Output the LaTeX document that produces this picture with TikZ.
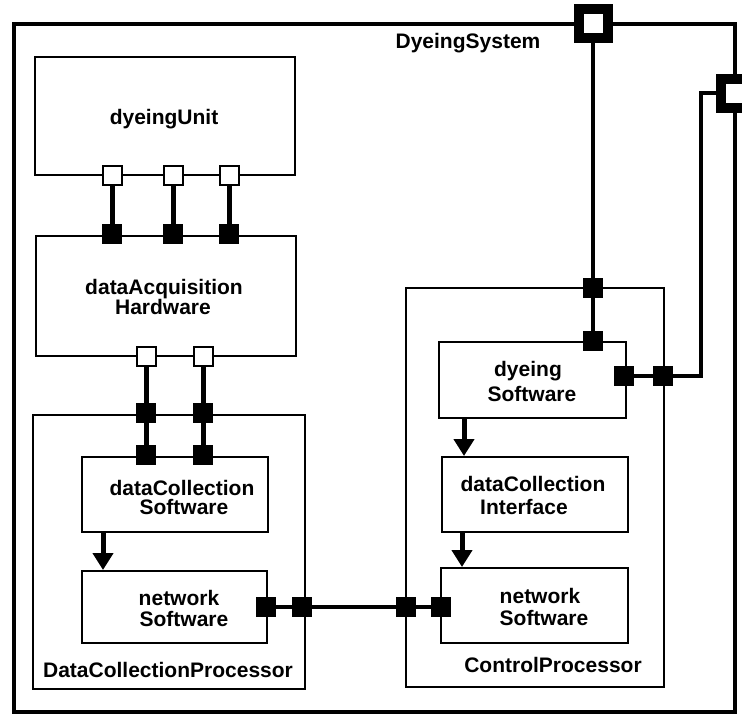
\documentclass[tikz,border=0pt]{standalone}
\usepackage{fontspec}
\setmainfont{Liberation Sans}
\usetikzlibrary{arrows.meta}
\begin{document}
\begin{tikzpicture}[x=1pt,y=-1pt,
  box/.style={draw, rectangle, line width=2pt, inner sep=0pt},
  frame/.style={draw, rectangle, line width=3.5pt, inner sep=0pt},
  lbl/.style={font=\bfseries\fontsize{21}{22}\selectfont, inner sep=0pt, anchor=base},
  fport/.style={rectangle, fill=black, draw=black, line width=1pt, minimum size=19pt, inner sep=0pt},
  hport/.style={rectangle, fill=white, draw=black, line width=2pt, minimum size=19pt, inner sep=0pt},
  extport/.style={rectangle, fill=white, draw=black, line width=10pt, minimum size=29pt, inner sep=0pt},
  wire/.style={line width=5pt},
  slimwire/.style={line width=4pt},
  flow/.style={line width=5pt, -{Triangle[length=17pt,width=20pt]}}]

\useasboundingbox (0,0) rectangle (742,715);
\clip (0,0) rectangle (742,715);

% enclosing system
\node[frame, minimum width=721pt, minimum height=688pt] (sys) at (374.5,368) {};

% components
\node[box, minimum width=260pt, minimum height=118pt] (du)  at (165,116)   {};
\node[box, minimum width=260pt, minimum height=120pt] (dah) at (166,296)   {};
\node[box, minimum width=272pt, minimum height=274pt] (dcp) at (169,552)   {};
\node[box, minimum width=186pt, minimum height=75pt]  (dcs) at (175,494.5) {};
\node[box, minimum width=185pt, minimum height=72pt]  (ns1) at (174.5,607) {};
\node[box, minimum width=258pt, minimum height=399pt] (cp)  at (535,487.5) {};
\node[box, minimum width=187pt, minimum height=76pt]  (ds)  at (532.5,380) {};
\node[box, minimum width=186pt, minimum height=75pt]  (dci) at (535,494.5) {};
\node[box, minimum width=187pt, minimum height=75pt]  (ns2) at (534.5,605.5) {};

% labels
\node[lbl] (tSys)  at (468,48)  {DyeingSystem};
\node[lbl] (tDu)   at (164,124) {dyeingUnit};
\node[lbl] (tDah1) at (164,294) {dataAcquisition};
\node[lbl] (tDah2) at (163,314) {Hardware};
\node[lbl] (tDcs1) at (182,495) {dataCollection};
\node[lbl] (tDcs2) at (184,514) {Software};
\node[lbl] (tNsa)  at (179,605) {network};
\node[lbl] (tNsb)  at (184,626) {Software};
\node[lbl] (tDcp)  at (168,677) {DataCollectionProcessor};
\node[lbl] (tDs1)  at (528,376) {dyeing};
\node[lbl] (tDs2)  at (532,401) {Software};
\node[lbl] (tDci1) at (533,491) {dataCollection};
\node[lbl] (tDci2) at (524,514) {Interface};
\node[lbl] (tNsc)  at (540,603) {network};
\node[lbl] (tNsd)  at (544,625) {Software};
\node[lbl] (tCp)   at (553,672) {ControlProcessor};

% ports
\node[hport] (duB1) at (112,175) {};
\node[hport] (duB2) at (173,175) {};
\node[hport] (duB3) at (229,175) {};
\node[fport] (dahT1) at (112,234) {};
\node[fport] (dahT2) at (173,234) {};
\node[fport] (dahT3) at (229,234) {};
\node[hport] (dahB1) at (146,356) {};
\node[hport] (dahB2) at (203,356) {};
\node[fport] (dcpT1) at (146,413) {};
\node[fport] (dcpT2) at (203,413) {};
\node[fport] (dcsT1) at (146,455) {};
\node[fport] (dcsT2) at (203,455) {};
\node[fport] (ns1R) at (266,607) {};
\node[fport] (dcpR) at (302,607) {};
\node[fport] (cpL)  at (406,607) {};
\node[fport] (ns2L) at (441,607) {};
\node[fport] (cpT)  at (593,288) {};
\node[fport] (dsT)  at (593,341) {};
\node[fport] (dsR)  at (624,376) {};
\node[fport] (cpR)  at (663,376) {};
\node[extport] (sysT) at (593,23) {};
\node[extport] (sysR) at (735,93) {};

\coordinate (bendA) at (701,376);
\coordinate (bendB) at (701,93);

% connectors
\draw[wire] (duB1) -- (dahT1);
\draw[wire] (duB2) -- (dahT2);
\draw[wire] (duB3) -- (dahT3);
\draw[wire] (dahB1) -- (dcpT1) -- (dcsT1);
\draw[wire] (dahB2) -- (dcpT2) -- (dcsT2);
\draw[slimwire] (ns1R) -- (dcpR) -- (cpL) -- (ns2L);
\draw[slimwire] (sysT) -- (cpT) -- (dsT);
\draw[slimwire] (dsR) -- (cpR) -- (bendA) -- (bendB) -- (sysR);

% dependencies
\draw[flow] ([xshift=22pt]dcs.south west) -- ([xshift=22pt]dcs.south west |- ns1.north);
\draw[flow] ([xshift=26pt]ds.south west) -- ([xshift=26pt]ds.south west |- dci.north);
\draw[flow] ([xshift=21pt]dci.south west) -- ([xshift=21pt]dci.south west |- ns2.north);
\end{tikzpicture}
\end{document}
